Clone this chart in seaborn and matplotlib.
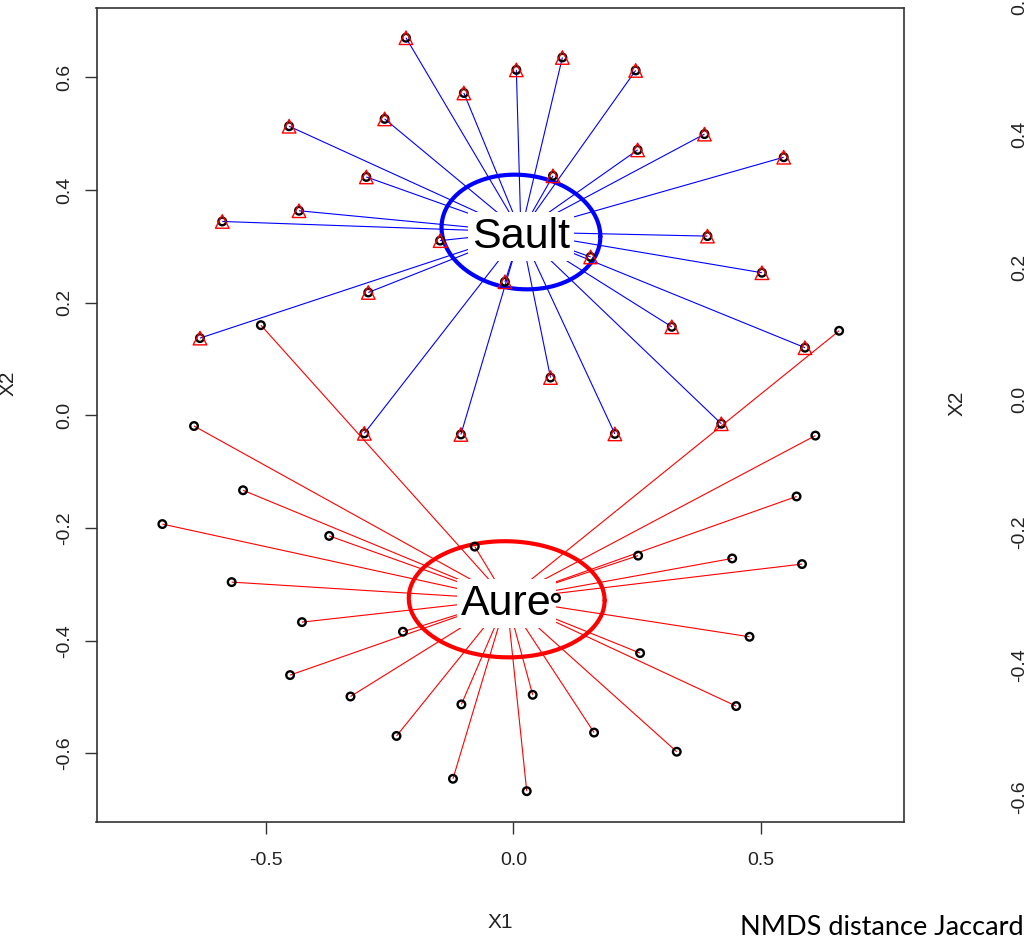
import numpy as np
import pandas as pd
import matplotlib
matplotlib.use("Agg")
import matplotlib.pyplot as plt
from matplotlib.collections import LineCollection
from matplotlib.ticker import FormatStrFormatter, FixedLocator
import seaborn as sns

# ---------------- data (NMDS site scores) ----------------
groups = ["Sault", "Aure"]

sault_x1 = [-0.217, 0.006, -0.100, -0.260, -0.453, -0.297, -0.433, -0.588, -0.148, -0.293,
            -0.633, -0.017, 0.075, 0.099, 0.247, 0.386, 0.251, 0.546, 0.080, 0.392,
            0.502, 0.156, 0.320, 0.589, 0.205, 0.420, -0.301, -0.106]
sault_x2 = [0.670, 0.613, 0.572, 0.526, 0.513, 0.423, 0.363, 0.344, 0.310, 0.218,
            0.137, 0.237, 0.067, 0.635, 0.612, 0.499, 0.471, 0.458, 0.425, 0.318,
            0.253, 0.281, 0.157, 0.120, -0.033, -0.015, -0.032, -0.034]

aure_x1 = [-0.645, -0.546, -0.709, -0.372, -0.569, -0.427, -0.223, -0.451, -0.329, -0.078,
           -0.105, -0.236, 0.039, -0.122, 0.027, -0.510, 0.658, 0.610, 0.572, 0.252,
           0.442, 0.583, 0.086, 0.477, 0.256, 0.450, 0.163, 0.330]
aure_x2 = [-0.019, -0.133, -0.193, -0.214, -0.296, -0.367, -0.384, -0.461, -0.499, -0.233,
           -0.513, -0.569, -0.496, -0.645, -0.667, 0.160, 0.150, -0.036, -0.144, -0.249,
           -0.254, -0.264, -0.324, -0.393, -0.422, -0.516, -0.563, -0.597]

x_ticks = [-0.5, 0.0, 0.5]
y_ticks = [-0.6, -0.4, -0.2, 0.0, 0.2, 0.4, 0.6]
x_label = "X1"
y_label = "X2"
caption = "NMDS distance Jaccard"

group_colors = {"Sault": "#0000FF", "Aure": "#FF0000"}

# ---------------- style ----------------
sns.set_theme(style="white")
plt.rcParams["font.family"] = ["Liberation Sans Narrow", "Liberation Sans", "DejaVu Sans"]
plt.rcParams["axes.unicode_minus"] = False

df = pd.DataFrame({
    "X1": sault_x1 + aure_x1,
    "X2": sault_x2 + aure_x2,
    "group": ["Sault"] * len(sault_x1) + ["Aure"] * len(aure_x1),
})

fig = plt.figure(figsize=(10.32, 9.38), dpi=100)
ax = fig.add_axes([96.5 / 1032, 1 - 822 / 938, (904 - 96.5) / 1032, (822 - 8) / 938])
ax.set_xlim(-0.842, 0.789)
ax.set_ylim(-0.7217, 0.7228)

chi_scale = np.sqrt(-2 * np.log(0.05))  # sqrt(qchisq(0.95, 2))
theta = np.linspace(0, 2 * np.pi, 200)
circle = np.vstack([np.cos(theta), np.sin(theta)])

for g in groups:
    sub = df[df["group"] == g]
    pts = sub[["X1", "X2"]].to_numpy()
    c = pts.mean(axis=0)
    col = group_colors[g]
    # spider
    segs = [[(c[0], c[1]), (p[0], p[1])] for p in pts]
    ax.add_collection(LineCollection(segs, colors=col, linewidths=0.8, zorder=1))
    # label with white box
    ax.text(c[0], c[1], g, ha="center", va="center_baseline", fontsize=31, color="black",
            zorder=2,
            bbox=dict(boxstyle="square,pad=0.1", facecolor="white", edgecolor="none"))
    # 95% confidence ellipse of centroid (kind = "se")
    cov = np.cov(pts.T) / len(pts)
    L = np.linalg.cholesky(cov)
    ell = (L @ circle) * chi_scale + c[:, None]
    ax.plot(ell[0], ell[1], color=col, lw=3.0, zorder=3)

# all sites: open black circles
sns.scatterplot(data=df, x="X1", y="X2", marker="o", s=30, facecolor="none",
                edgecolor="black", linewidth=1.7, ax=ax, zorder=4, legend=False)
# Sault sites: open red triangles
sns.scatterplot(data=df[df["group"] == "Sault"], x="X1", y="X2", marker="^", s=95,
                facecolor="none", edgecolor="#FF0000", linewidth=1.0, ax=ax, zorder=5,
                legend=False)

# axes styling
for sp in ax.spines.values():
    sp.set_visible(True)
    sp.set_color("#333333")
    sp.set_linewidth(1.2)
ax.xaxis.set_major_locator(FixedLocator(x_ticks))
ax.yaxis.set_major_locator(FixedLocator(y_ticks))
ax.xaxis.set_major_formatter(FormatStrFormatter("%.1f"))
ax.yaxis.set_major_formatter(FormatStrFormatter("%.1f"))
ax.tick_params(axis="both", which="major", direction="out", length=8.5, width=1.0,
               color="#333333", labelsize=14, labelcolor="#222222",
               bottom=True, left=True)
ax.tick_params(axis="x", pad=13)
ax.tick_params(axis="y", pad=8)
for lab in ax.get_yticklabels():
    lab.set_rotation(90)
    lab.set_va("center")
ax.set_xlabel(x_label, fontsize=15, color="#222222")
ax.set_ylabel(y_label, fontsize=15, color="#222222")
ax.xaxis.set_label_coords(500 / 1032, 1 - 913 / 938, transform=fig.transFigure)
ax.yaxis.set_label_coords(18 / 1032, 1 - 383 / 938, transform=fig.transFigure)
ax.grid(False)

# partial neighbouring panel (only its y axis is visible at the right edge)
ax2 = fig.add_axes([1051 / 1032, 0.0, 0.4, 1.0])
ax2.set_ylim(-0.8119, 0.6029)
ax2.set_xlim(0, 1)
ax2.yaxis.set_major_locator(FixedLocator(y_ticks))
ax2.yaxis.set_major_formatter(FormatStrFormatter("%.1f"))
ax2.set_xticks([])
ax2.tick_params(axis="y", direction="out", length=8.5, width=1.0, color="#333333",
                labelsize=14, labelcolor="#222222", pad=8, left=True)
for lab in ax2.get_yticklabels():
    lab.set_rotation(90)
    lab.set_va("center")
ax2.set_ylabel(y_label, fontsize=15, color="#222222")
ax2.yaxis.set_label_coords(967 / 1032, 1 - 403 / 938, transform=fig.transFigure)

fig.text(1024 / 1032, 1 - 927 / 938, caption, ha="right", va="center",
         fontsize=19.5, family=["Lato", "DejaVu Sans"], color="black")

fig.savefig("out.png", dpi=100)
